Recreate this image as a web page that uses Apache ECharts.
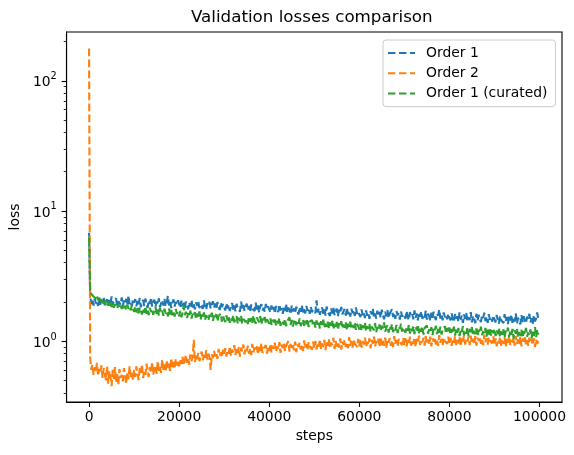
<!DOCTYPE html>
<html lang="en">
<head>
  <meta charset="UTF-8">
  <title>Validation losses comparison</title>
  <style>
    html, body { margin: 0; padding: 0; background: #fff; }
    #main { width: 574px; height: 455px; }
  </style>
</head>
<body>
  <div id="main"></div>
<script src="https://cdn.jsdelivr.net/npm/echarts@6/dist/echarts.min.js"></script>
<script>
  // one logged point every 250 steps, starting at step 0 (one row = 10000 steps)
  var stepSize = 250;

  var order1 = [
    6.8, 2.25, 1.92, 2.08, 1.87, 2.12, 1.95, 2.03, 1.86, 2.15, 1.90, 2.06, 1.96, 2.18, 1.88, 2.01, 2.10, 1.85, 2.07, 1.93, 2.20, 1.89, 2.04, 1.97, 2.13, 1.84, 2.02, 2.09, 1.91, 2.16, 1.87, 2.05, 1.94, 2.11, 1.88, 2.23, 1.92, 2.00, 1.86, 2.08,
    1.97, 2.10, 1.85, 2.03, 1.89, 2.14, 1.82, 1.99, 2.07, 1.86, 2.12, 1.91, 1.80, 2.05, 1.93, 2.16, 1.84, 1.98, 2.08, 1.83, 2.01, 1.90, 2.13, 1.81, 1.96, 2.06, 1.87, 2.11, 1.85, 1.97, 2.22, 1.88, 2.02, 1.79, 1.95, 2.09, 1.84, 2.00, 1.90, 2.06,
    1.92, 1.80, 2.04, 1.85, 1.97, 1.78, 2.01, 1.87, 1.76, 1.99, 1.84, 2.06, 1.81, 1.93, 1.75, 1.98, 1.86, 2.03, 1.79, 1.90, 1.96, 1.77, 2.05, 1.83, 1.74, 1.95, 1.88, 2.00, 1.78, 1.91, 2.02, 1.80, 1.94, 1.76, 1.99, 1.85, 1.73, 1.97, 1.82, 1.92,
    1.87, 1.72, 1.95, 1.78, 1.90, 1.70, 1.84, 1.96, 1.74, 1.88, 1.69, 1.93, 1.79, 1.85, 1.68, 2.01, 1.76, 1.89, 1.71, 1.83, 1.94, 1.73, 1.86, 1.67, 1.91, 1.77, 1.82, 1.70, 1.97, 1.75, 1.88, 1.66, 1.84, 1.92, 1.72, 1.80, 1.68, 1.93, 1.76, 1.85,
    1.80, 1.66, 1.88, 1.71, 1.83, 1.63, 1.86, 1.74, 1.67, 1.91, 1.72, 1.79, 1.62, 1.85, 1.70, 1.93, 1.65, 1.81, 1.76, 1.61, 1.87, 1.69, 1.78, 1.64, 1.84, 1.72, 1.60, 1.82, 1.68, 1.89, 1.66, 1.77, 1.63, 1.86, 1.71, 1.80, 1.62, 1.83, 1.67, 1.74,
    1.76, 1.64, 2.05, 1.66, 1.79, 1.59, 1.73, 1.81, 1.62, 1.75, 1.57, 1.84, 1.67, 1.72, 1.56, 1.78, 1.63, 1.80, 1.58, 1.70, 1.77, 1.55, 1.74, 1.65, 1.83, 1.60, 1.69, 1.76, 1.57, 1.79, 1.61, 1.71, 1.54, 1.77, 1.64, 1.73, 1.56, 1.81, 1.62, 1.68,
    1.69, 1.53, 1.75, 1.58, 1.66, 1.50, 1.72, 1.57, 1.64, 1.48, 1.70, 1.60, 1.77, 1.52, 1.63, 1.49, 1.71, 1.56, 1.67, 1.51, 1.74, 1.59, 1.47, 1.68, 1.55, 1.73, 1.50, 1.62, 1.57, 1.76, 1.53, 1.65, 1.48, 1.70, 1.58, 1.64, 1.46, 1.69, 1.54, 1.61,
    1.64, 1.49, 1.70, 1.53, 1.45, 1.67, 1.55, 1.61, 1.47, 1.72, 1.51, 1.63, 1.44, 1.66, 1.54, 1.69, 1.48, 1.59, 1.52, 1.71, 1.46, 1.62, 1.56, 1.43, 1.65, 1.50, 1.68, 1.53, 1.45, 1.63, 1.57, 1.74, 1.49, 1.60, 1.44, 1.66, 1.52, 1.58, 1.47, 1.62,
    1.58, 1.44, 1.63, 1.47, 1.40, 1.61, 1.49, 1.55, 1.41, 1.66, 1.46, 1.57, 1.38, 1.60, 1.48, 1.64, 1.42, 1.53, 1.45, 1.67, 1.39, 1.56, 1.50, 1.37, 1.62, 1.43, 1.59, 1.47, 1.40, 1.58, 1.51, 1.65, 1.42, 1.54, 1.38, 1.61, 1.46, 1.52, 1.41, 1.57,
    1.52, 1.39, 1.59, 1.43, 1.36, 1.56, 1.45, 1.50, 1.37, 1.61, 1.42, 1.53, 1.35, 1.57, 1.44, 1.60, 1.38, 1.49, 1.41, 1.63, 1.36, 1.51, 1.46, 1.34, 1.58, 1.40, 1.55, 1.43, 1.37, 1.54, 1.47, 1.62, 1.39, 1.50, 1.35, 1.58, 1.42, 1.48, 1.66, 1.44
  ];

  var order2 = [
    177, 0.74, 0.60, 0.66, 0.55, 0.63, 0.58, 0.68, 0.54, 0.61, 0.57, 0.65, 0.52, 0.62, 0.56, 0.50, 0.64, 0.47, 0.59, 0.53, 0.45, 0.60, 0.51, 0.63, 0.48, 0.57, 0.46, 0.61, 0.52, 0.55, 0.49, 0.62, 0.54, 0.47, 0.58, 0.51, 0.64, 0.53, 0.57, 0.50,
    0.60, 0.53, 0.64, 0.56, 0.50, 0.62, 0.57, 0.66, 0.52, 0.59, 0.55, 0.67, 0.58, 0.53, 0.63, 0.57, 0.69, 0.55, 0.61, 0.65, 0.56, 0.70, 0.59, 0.63, 0.57, 0.72, 0.60, 0.66, 0.58, 0.71, 0.62, 0.67, 0.59, 0.74, 0.63, 0.69, 0.61, 0.73, 0.65, 0.70,
    0.64, 0.73, 0.67, 0.76, 0.65, 0.71, 0.78, 0.68, 0.74, 0.66, 0.79, 0.70, 0.75, 1.02, 0.69, 0.77, 0.72, 0.81, 0.70, 0.76, 0.83, 0.71, 0.78, 0.73, 0.85, 0.72, 0.80, 0.75, 0.60, 0.79, 0.74, 0.84, 0.76, 0.81, 0.73, 0.87, 0.77, 0.82, 0.75, 0.86,
    0.79, 0.88, 0.76, 0.85, 0.80, 0.91, 0.77, 0.86, 0.82, 0.93, 0.78, 0.87, 0.81, 0.90, 0.76, 0.89, 0.83, 0.94, 0.79, 0.88, 0.84, 0.92, 0.80, 0.87, 0.78, 0.95, 0.82, 0.89, 0.85, 0.91, 0.79, 0.90, 0.83, 0.96, 0.81, 0.88, 0.86, 0.93, 0.80, 0.91,
    0.84, 0.95, 0.82, 0.92, 0.87, 0.97, 0.83, 0.91, 0.86, 0.98, 0.81, 0.94, 0.88, 0.96, 0.84, 0.92, 0.89, 1.00, 0.83, 0.95, 0.87, 0.93, 0.85, 0.99, 0.82, 0.94, 0.90, 0.97, 0.86, 0.93, 0.84, 1.01, 0.88, 0.95, 0.85, 0.98, 0.91, 0.94, 0.86, 0.99,
    0.88, 1.00, 0.86, 0.97, 0.91, 1.03, 0.87, 0.96, 0.90, 1.02, 0.85, 0.99, 0.92, 1.04, 0.88, 0.97, 0.93, 1.06, 0.87, 1.00, 0.91, 0.98, 0.89, 1.05, 0.86, 0.99, 0.94, 1.02, 0.90, 0.97, 0.88, 1.07, 0.92, 1.00, 0.89, 1.03, 0.95, 0.98, 0.90, 1.04,
    0.91, 1.03, 0.89, 1.00, 0.94, 1.06, 0.90, 0.99, 0.93, 1.05, 0.88, 1.02, 0.95, 1.08, 0.91, 1.00, 0.96, 1.04, 0.90, 1.07, 0.93, 1.01, 0.92, 1.06, 0.89, 1.03, 0.97, 1.05, 0.92, 1.00, 0.90, 1.09, 0.95, 1.02, 0.91, 1.04, 0.98, 1.01, 0.93, 1.06,
    0.93, 1.05, 0.91, 1.02, 0.96, 1.08, 0.92, 1.01, 0.95, 1.07, 0.90, 1.04, 0.97, 1.10, 0.93, 1.02, 0.98, 1.06, 0.92, 1.09, 0.95, 1.03, 0.94, 1.08, 0.91, 1.05, 0.99, 1.07, 0.94, 1.02, 0.92, 1.11, 0.97, 1.04, 0.93, 1.06, 1.00, 1.03, 0.95, 1.08,
    0.94, 1.06, 0.92, 1.03, 0.97, 1.09, 0.93, 1.02, 0.96, 1.08, 0.91, 1.05, 0.98, 1.11, 0.94, 1.03, 0.99, 1.07, 0.93, 1.10, 0.96, 1.04, 0.95, 1.09, 0.92, 1.06, 1.00, 1.08, 0.95, 1.03, 0.93, 1.12, 0.98, 1.05, 0.94, 1.07, 1.01, 1.04, 0.96, 1.09,
    0.93, 1.05, 0.91, 1.02, 0.96, 1.08, 0.92, 1.01, 0.95, 1.07, 0.90, 1.04, 0.97, 1.10, 0.93, 1.02, 0.98, 1.06, 0.92, 1.09, 0.95, 1.03, 0.94, 1.08, 0.91, 1.05, 0.99, 1.07, 0.94, 1.02, 0.92, 1.06, 0.97, 1.04, 0.93, 1.05, 0.90, 1.03, 0.95, 1.01
  ];

  var order1Curated = [
    6.2, 2.45, 2.30, 2.38, 2.20, 2.27, 2.12, 2.22, 2.06, 2.15, 2.01, 2.10, 1.95, 2.07, 1.92, 2.03, 1.88, 1.99, 1.86, 1.97, 1.83, 1.95, 1.80, 1.92, 1.85, 1.78, 1.93, 1.81, 1.89, 1.76, 1.90, 1.79, 1.87, 1.74, 1.91, 1.77, 1.84, 1.72, 1.88, 1.75,
    1.68, 1.83, 1.66, 1.79, 1.63, 1.81, 1.70, 1.60, 1.78, 1.65, 1.84, 1.62, 1.74, 1.58, 1.80, 1.67, 1.76, 1.59, 1.72, 1.82, 1.61, 1.75, 1.57, 1.79, 1.64, 1.71, 1.56, 1.77, 1.63, 1.69, 1.55, 1.78, 1.60, 1.73, 1.58, 1.70, 1.54, 1.76, 1.62, 1.68,
    1.55, 1.70, 1.52, 1.66, 1.86, 1.58, 1.68, 1.50, 1.64, 1.54, 1.71, 1.49, 1.62, 1.56, 1.67, 1.47, 1.63, 1.53, 1.69, 1.46, 1.60, 1.51, 1.66, 1.45, 1.58, 1.62, 1.44, 1.59, 1.50, 1.65, 1.43, 1.57, 1.48, 1.61, 1.42, 1.56, 1.52, 1.63, 1.41, 1.55,
    1.52, 1.40, 1.57, 1.44, 1.54, 1.38, 1.50, 1.43, 1.58, 1.39, 1.49, 1.55, 1.37, 1.51, 1.42, 1.56, 1.36, 1.48, 1.53, 1.40, 1.46, 1.35, 1.54, 1.41, 1.50, 1.38, 1.57, 1.43, 1.36, 1.52, 1.45, 1.39, 1.55, 1.34, 1.49, 1.42, 1.53, 1.37, 1.47, 1.51,
    1.36, 1.49, 1.33, 1.46, 1.39, 1.51, 1.32, 1.44, 1.37, 1.50, 1.31, 1.43, 1.47, 1.34, 1.48, 1.30, 1.42, 1.38, 1.52, 1.33, 1.45, 1.29, 1.41, 1.47, 1.32, 1.44, 1.36, 1.49, 1.30, 1.40, 1.46, 1.31, 1.43, 1.35, 1.48, 1.28, 1.41, 1.37, 1.45, 1.32,
    1.40, 1.27, 1.44, 1.30, 1.38, 1.25, 1.42, 1.33, 1.46, 1.26, 1.36, 1.29, 1.41, 1.24, 1.39, 1.31, 1.43, 1.23, 1.35, 1.28, 1.40, 1.22, 1.37, 1.30, 1.42, 1.25, 1.34, 1.27, 1.39, 1.21, 1.36, 1.29, 1.41, 1.24, 1.33, 1.26, 1.38, 1.22, 1.35, 1.30,
    1.23, 1.35, 1.20, 1.32, 1.26, 1.38, 1.19, 1.30, 1.24, 1.36, 1.18, 1.29, 1.33, 1.21, 1.37, 1.17, 1.28, 1.22, 1.34, 1.19, 1.31, 1.25, 1.39, 1.18, 1.27, 1.32, 1.16, 1.30, 1.23, 1.35, 1.17, 1.26, 1.21, 1.33, 1.15, 1.29, 1.24, 1.36, 1.18, 1.27,
    1.31, 1.16, 1.28, 1.20, 1.33, 1.14, 1.25, 1.19, 1.30, 1.13, 1.27, 1.21, 1.34, 1.15, 1.24, 1.18, 1.29, 1.12, 1.26, 1.22, 1.32, 1.14, 1.23, 1.17, 1.28, 1.11, 1.25, 1.20, 1.31, 1.13, 1.24, 1.16, 1.29, 1.12, 1.22, 1.19, 1.30, 1.14, 1.26, 1.17,
    1.27, 1.12, 1.24, 1.16, 1.29, 1.10, 1.22, 1.15, 1.26, 1.09, 1.23, 1.18, 1.30, 1.11, 1.21, 1.14, 1.27, 1.08, 1.24, 1.17, 1.28, 1.10, 1.20, 1.13, 1.25, 1.09, 1.22, 1.16, 1.29, 1.11, 1.19, 1.14, 1.26, 1.08, 1.23, 1.12, 1.27, 1.10, 1.21, 1.15,
    1.24, 1.09, 1.21, 1.13, 1.26, 1.07, 1.19, 1.12, 1.23, 1.06, 1.20, 1.15, 1.27, 1.08, 1.18, 1.11, 1.24, 1.05, 1.21, 1.14, 1.25, 1.07, 1.17, 1.10, 1.22, 1.06, 1.19, 1.13, 1.26, 1.08, 1.16, 1.11, 1.23, 1.05, 1.20, 1.09, 1.28, 1.07, 1.22, 1.12
  ];

  var xTicks = [0, 20000, 40000, 60000, 80000, 100000];
  var yMajorTicks = [1, 10, 100];
  var yMinorTicks = [0.4, 0.5, 0.6, 0.7, 0.8, 0.9, 2, 3, 4, 5, 6, 7, 8, 9, 20, 30, 40, 50, 60, 70, 80, 90, 200];

  var font = 'DejaVu Sans';
  // legend handle: three dashes like matplotlib's '--'
  var dashIcon = 'path://M0,0H7.4V2H0Z M11,0H18.4V2H11Z M22,0H27V2H22Z';

  function toPairs(values) {
    return values.map(function (v, i) { return [i * stepSize, v]; });
  }

  function lineSeries(name, color, values) {
    return {
      name: name,
      type: 'line',
      data: toPairs(values),
      symbol: 'none',
      showSymbol: false,
      color: color,
      lineStyle: { color: color, width: 2.1, type: [7.7, 3.3] }
    };
  }

  var myChart = echarts.init(document.getElementById('main'), null, { renderer: 'canvas' });

  var option = {
    animation: false,
    backgroundColor: '#fff',
    textStyle: { fontFamily: font },
    title: {
      text: 'Validation losses comparison',
      left: 191,
      top: 9,
      padding: 0,
      textStyle: { fontFamily: font, fontSize: 16.7, fontWeight: 'normal', color: '#000' }
    },
    legend: {
      orient: 'vertical',
      left: 383,
      top: 40,
      padding: [6, 8, 6, 5],
      itemGap: 6.3,
      itemWidth: 27,
      itemHeight: 2.1,
      icon: dashIcon,
      backgroundColor: 'rgba(255,255,255,0.8)',
      borderColor: '#cccccc',
      borderWidth: 1,
      borderRadius: 3,
      textStyle: { fontFamily: font, fontSize: 13.9, color: '#000', lineHeight: 14, padding: [0, 0, 0, 6] },
      data: ['Order 1', 'Order 2', 'Order 1 (curated)']
    },
    grid: {
      left: 64,
      right: 12,
      top: 32,
      bottom: 53,
      show: true,
      borderColor: '#000',
      borderWidth: 1.1,
      containLabel: false
    },
    xAxis: {
      type: 'value',
      min: -5000,
      max: 105000,
      name: 'steps',
      nameLocation: 'middle',
      nameGap: 27,
      nameTextStyle: { fontFamily: font, fontSize: 13.9, color: '#000' },
      axisLine: { show: true, onZero: false, lineStyle: { color: '#000', width: 1.1 } },
      axisTick: { show: true, customValues: xTicks, length: 4.9, lineStyle: { color: '#000', width: 1.1 } },
      axisLabel: {
        customValues: xTicks,
        margin: 8,
        fontFamily: font,
        fontSize: 13.9,
        color: '#000',
        formatter: function (v) { return String(v); }
      },
      splitLine: { show: false }
    },
    yAxis: [
      {
        type: 'log',
        min: 0.34,
        max: 237,
        position: 'left',
        name: 'loss',
        nameLocation: 'middle',
        nameGap: 40,
        nameRotate: 90,
        nameTextStyle: { fontFamily: font, fontSize: 13.9, color: '#000' },
        axisLine: { show: true, onZero: false, lineStyle: { color: '#000', width: 1.1 } },
        axisTick: { show: true, customValues: yMajorTicks, length: 4.9, lineStyle: { color: '#000', width: 1.1 } },
        axisLabel: {
          customValues: yMajorTicks,
          margin: 9.8,
          color: '#000',
          formatter: function (v) {
            return '{b|10}{s|' + Math.round(Math.log10(v)) + '}';
          },
          rich: {
            b: { fontFamily: font, fontSize: 13.9, color: '#000', lineHeight: 18, verticalAlign: 'bottom' },
            s: { fontFamily: font, fontSize: 9.7, color: '#000', lineHeight: 10, verticalAlign: 'top' }
          }
        },
        splitLine: { show: false }
      },
      {
        type: 'log',
        min: 0.34,
        max: 237,
        position: 'left',
        axisLine: { show: false, onZero: false },
        axisTick: { show: true, customValues: yMinorTicks, length: 2.8, lineStyle: { color: '#000', width: 0.8 } },
        axisLabel: { show: false },
        splitLine: { show: false }
      }
    ],
    series: [
      lineSeries('Order 1', '#1f77b4', order1),
      lineSeries('Order 2', '#ff7f0e', order2),
      lineSeries('Order 1 (curated)', '#2ca02c', order1Curated)
    ]
  };

  myChart.setOption(option);
</script>
</body>
</html>
